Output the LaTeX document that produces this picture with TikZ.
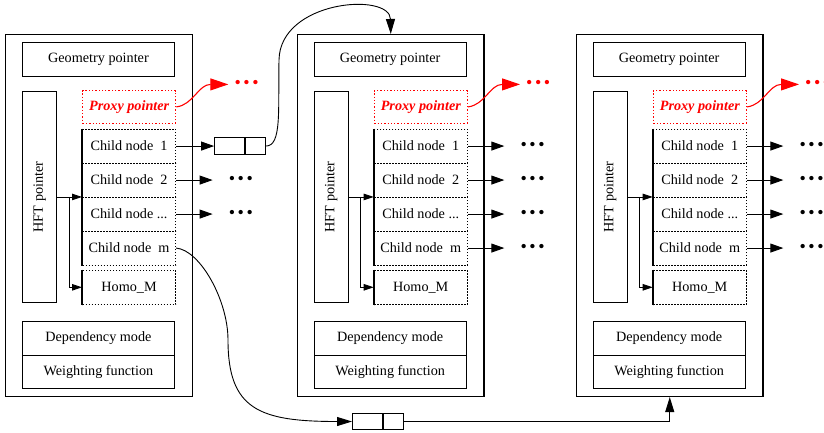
\documentclass[tikz,border=0pt]{standalone}
\usepackage{fontspec}
\setmainfont{Liberation Serif}
\usetikzlibrary{arrows.meta,calc}
\newcommand\fsz{\fontsize{14.2}{17}\selectfont}
\newcommand\tdots{\textbullet\hspace{2.6pt}\textbullet\hspace{2.6pt}\textbullet}
\tikzset{
 outerbox/.style={draw, line width=1.4pt, anchor=north west, inner sep=0pt, minimum width=186.7pt, minimum height=361.7pt},
 box/.style={draw, line width=0.9pt, anchor=north west, inner sep=0pt, font=\fsz},
 cbox/.style={draw, line width=1.1pt, dash pattern=on 1.3pt off 1.7pt, anchor=north west, inner sep=0pt, minimum width=93pt, minimum height=34pt, font=\fsz},
 pbox/.style={draw=red, text=red, line width=1.3pt, dash pattern=on 1.3pt off 2pt, anchor=north west, inner sep=0pt, minimum width=93pt, minimum height=32.5pt, font=\fsz\bfseries\itshape},
 thickl/.style={line width=2.2pt},
 sarr/.style={line width=0.9pt, -{Triangle[length=10pt,width=6.5pt]}},
 arr/.style={line width=0.9pt, -{Triangle[length=13pt,width=9pt]}},
 carr/.style={line width=0.9pt, -{Triangle[length=15pt,width=9pt]}},
 rarr/.style={red, line width=1.1pt, -{Triangle[length=18pt,width=12pt]}},
 dotsn/.style={inner sep=0pt, anchor=west, font=\fontsize{18}{18}\selectfont},
 cell/.style={draw, line width=0.9pt, inner sep=0pt, minimum height=16.3pt},
}
\newcommand\drawpanel[2]{%
\begin{scope}[xshift=#2pt]
\node[outerbox] (P#1) at (0,34) {};
\node[box, minimum width=152pt, minimum height=33.7pt] (g#1) at (17,42) {Geometry pointer};
\node[box, minimum width=34.3pt, minimum height=211pt] (h#1) at (17,91) {};
\node[rotate=90, font=\fsz, inner sep=0pt] (ht#1) at (h#1.center) {HFT pointer};
\node[pbox] (pp#1) at (77,90) {Proxy pointer};
\node[cbox] (ca#1) at (77,128.5) {Child node~~1};
\node[cbox] (cb#1) at (77,162.5) {Child node~~2};
\node[cbox] (cc#1) at (77,196.5) {Child node ...};
\node[cbox] (cm#1) at (77,230.5) {Child node~~m};
\node[cbox, minimum height=34.5pt] (hm#1) at (77,269.5) {Homo\_M};
\draw[thickl] (ca#1.north west) -- (cm#1.south west);
\draw[thickl] (hm#1.north west) -- (hm#1.south west);
\node[box, minimum width=152pt, minimum height=34.3pt] (dm#1) at (17,320.7) {Dependency mode};
\node[box, minimum width=152pt, minimum height=32.7pt] (wf#1) at (17,355) {Weighting function};
\end{scope}
\draw[sarr] (h#1.east) -- (h#1.east -| ca#1.west);
\draw[sarr] ($(h#1.east)+(12,0)$) |- (hm#1.west);
\node[dotsn, red] (rd#1) at ($(pp#1.east)+(58,-22.5)$) {\tdots};
\draw[rarr, shorten >=6pt] (pp#1.east) .. controls +(17,-2) and +(-36,0) .. (rd#1.west);
}
\begin{document}
\begin{tikzpicture}[x=1pt,y=-1pt]
\useasboundingbox (0,0) rectangle (824,432);
\drawpanel{1}{5}
\drawpanel{2}{296.7}
\drawpanel{3}{575.7}
% panel 1 children
\node[cell, minimum width=30pt, anchor=west] (q1a) at ($(ca1.east)+(38,0)$) {};
\node[cell, minimum width=20pt, anchor=west] (q1b) at (q1a.east) {};
\draw[arr] (ca1.east) -- (q1a.west);
\foreach \c in {cb1,cc1,ca2,cb2,cc2,cm2,ca3,cb3,cc3,cm3}{
  \node[dotsn] (d\c) at ($(\c.east)+(52.5,0)$) {\tdots};
  \draw[arr, shorten >=16pt] (\c.east) -- (d\c.west);
}
% top connector
\draw[carr] (q1b.east) .. controls (282,146) and (278,110) .. (279,60) .. controls (280,0) and (390,-8) .. (P2.north);
% bottom connector
\node[cell, minimum width=30pt, anchor=west] (q2a) at (352,421.5) {};
\node[cell, minimum width=20pt, anchor=west] (q2b) at (q2a.east) {};
\draw[carr] (cm1.east) .. controls (200,250) and (228,300) .. (228,340) .. controls (228,410) and (260,421.5) .. (q2a.west);
\draw[carr] (q2b.east) -| (P3.south);
\end{tikzpicture}
\end{document}
